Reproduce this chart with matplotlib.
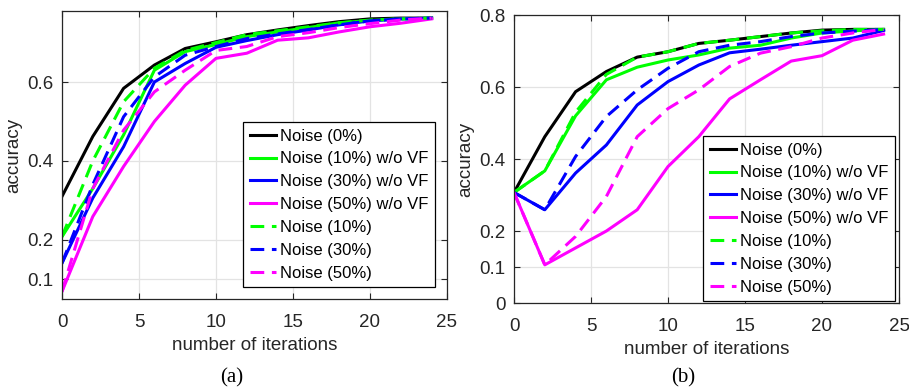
import matplotlib
matplotlib.use('Agg')
import matplotlib.pyplot as plt

# Iterationen
iters = [0, 2, 4, 6, 8, 10, 12, 14, 16, 18, 20, 22, 24]

# (a) Genauigkeiten
a_noise0 = [0.31, 0.462, 0.584, 0.643, 0.685, 0.702, 0.72, 0.732, 0.743, 0.753, 0.76, 0.762, 0.762]
a_noise10_novf = [0.208, 0.33, 0.466, 0.63, 0.677, 0.695, 0.715, 0.727, 0.738, 0.75, 0.756, 0.76, 0.762]
a_noise30_novf = [0.141, 0.306, 0.436, 0.60, 0.647, 0.688, 0.705, 0.72, 0.732, 0.745, 0.755, 0.76, 0.762]
a_noise50_novf = [0.069, 0.259, 0.386, 0.50, 0.592, 0.66, 0.673, 0.706, 0.712, 0.727, 0.74, 0.749, 0.76]
a_noise10 = [0.208, 0.40, 0.55, 0.635, 0.68, 0.70, 0.72, 0.73, 0.74, 0.75, 0.757, 0.76, 0.762]
a_noise30 = [0.141, 0.34, 0.512, 0.613, 0.668, 0.69, 0.71, 0.722, 0.733, 0.745, 0.755, 0.76, 0.762]
a_noise50 = [0.069, 0.33, 0.478, 0.575, 0.63, 0.68, 0.69, 0.715, 0.725, 0.738, 0.748, 0.757, 0.762]

# (b) Genauigkeiten
b_noise0 = [0.307, 0.462, 0.587, 0.643, 0.683, 0.698, 0.721, 0.73, 0.74, 0.75, 0.758, 0.76, 0.76]
b_noise10_novf = [0.307, 0.367, 0.52, 0.62, 0.655, 0.675, 0.689, 0.708, 0.716, 0.736, 0.75, 0.756, 0.76]
b_noise30_novf = [0.307, 0.259, 0.361, 0.439, 0.55, 0.615, 0.661, 0.695, 0.705, 0.716, 0.726, 0.736, 0.757]
b_noise50_novf = [0.307, 0.106, 0.153, 0.20, 0.259, 0.379, 0.462, 0.567, 0.62, 0.672, 0.687, 0.73, 0.747]
b_noise10 = [0.307, 0.367, 0.53, 0.635, 0.683, 0.698, 0.721, 0.73, 0.74, 0.75, 0.756, 0.76, 0.76]
b_noise30 = [0.307, 0.259, 0.407, 0.518, 0.592, 0.652, 0.698, 0.716, 0.726, 0.74, 0.75, 0.755, 0.76]
b_noise50 = [0.307, 0.106, 0.185, 0.296, 0.462, 0.54, 0.592, 0.657, 0.694, 0.712, 0.736, 0.75, 0.76]

labels = ['Noise (0%)', 'Noise (10%) w/o VF', 'Noise (30%) w/o VF', 'Noise (50%) w/o VF',
          'Noise (10%)', 'Noise (30%)', 'Noise (50%)']
colors = ['#000000', '#00ff00', '#0000ff', '#ff00ff', '#00ff00', '#0000ff', '#ff00ff']
styles = ['-', '-', '-', '-', '--', '--', '--']

plt.rcParams['font.family'] = ['Liberation Sans', 'DejaVu Sans']
axcol = '#262626'

fig = plt.figure(figsize=(9.09, 3.90), dpi=100)
ax_a = fig.add_axes([62 / 909, 91 / 390, 385 / 909, 288 / 390])
ax_b = fig.add_axes([514 / 909, 87 / 390, 385 / 909, 288 / 390])

panels = [
    (ax_a, [a_noise0, a_noise10_novf, a_noise30_novf, a_noise50_novf, a_noise10, a_noise30, a_noise50],
     (0.05, 0.78), [0.1, 0.2, 0.4, 0.6], (0.969, 0.042), '(a)'),
    (ax_b, [b_noise0, b_noise10_novf, b_noise30_novf, b_noise50_novf, b_noise10, b_noise30, b_noise50],
     (0.0, 0.8), [0, 0.1, 0.2, 0.4, 0.6, 0.8], (0.99, 0.007), '(b)'),
]

for ax, series, ylim, yticks, legpos, caption in panels:
    for vals, lab, c, ls in zip(series, labels, colors, styles):
        line, = ax.plot(iters, vals, color=c, linestyle=ls, linewidth=2.2, label=lab)
        if ls == '--':
            line.set_dashes((4.5, 2.5))
    ax.set_xlim(0, 25)
    ax.set_ylim(*ylim)
    ax.set_xticks([0, 5, 10, 15, 20, 25])
    ax.set_yticks(yticks)
    ax.set_yticklabels([('%g' % t) for t in yticks])
    ax.grid(True, color='#e3e3e3', linewidth=0.9)
    ax.set_axisbelow(True)
    ax.tick_params(direction='in', length=4, width=0.8, top=True, right=True,
                   labelsize=13.5, colors=axcol, pad=6)
    ax.tick_params(axis='x', pad=11)
    for sp in ax.spines.values():
        sp.set_color(axcol)
        sp.set_linewidth(0.9)
    ax.set_xlabel('number of iterations', fontsize=13.5, color=axcol, labelpad=4)
    ax.set_ylabel('accuracy', fontsize=13.5, color=axcol, labelpad=4)
    leg = ax.legend(loc='lower right', bbox_to_anchor=legpos, borderaxespad=0,
                    fontsize=12, handlelength=1.6, handletextpad=0.25,
                    labelspacing=0.47, borderpad=0.38, fancybox=False,
                    framealpha=1, edgecolor='#000000')
    leg.get_frame().set_linewidth(0.9)
    bb = ax.get_position()
    fig.text(bb.x0 + bb.width * 0.44, 0.03, caption, ha='center', va='center',
             fontsize=15, family='Liberation Serif')

fig.savefig('out.png', dpi=100)
